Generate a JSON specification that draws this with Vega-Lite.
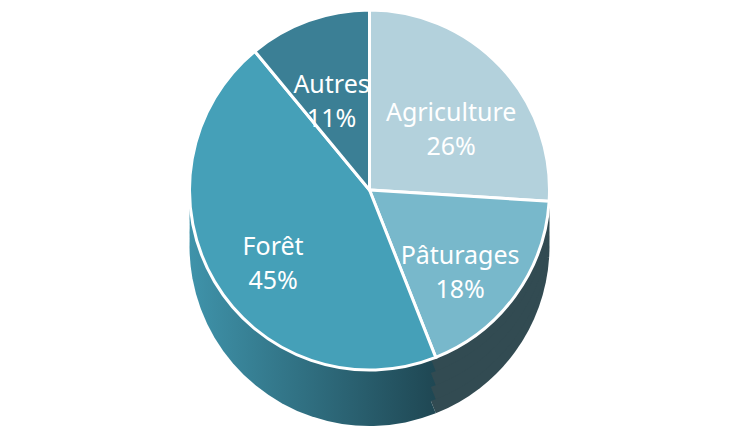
{
  "$schema": "https://vega.github.io/schema/vega-lite/v6.json",
  "width": 729,
  "height": 370,
  "autosize": {"type": "none"},
  "padding": {"left": 5, "right": 5, "top": 5, "bottom": 69},
  "background": "white",
  "view": {"stroke": null},
  "data": {
    "values": [
      {"cat": "Agriculture", "pct": 26, "ord": 1},
      {"cat": "Pâturages", "pct": 18, "ord": 2},
      {"cat": "Forêt", "pct": 45, "ord": 3},
      {"cat": "Autres", "pct": 11, "ord": 4}
    ]
  },
  "transform": [
    {"calculate": "datum.cat + '\\n' + datum.pct + '%'", "as": "label"}
  ],
  "encoding": {
    "theta": {"field": "pct", "type": "quantitative", "stack": true},
    "order": {"field": "ord", "type": "quantitative"}
  },
  "layer": [
    {
      "mark": {"type": "arc", "outerRadius": 180, "yOffset": 56},
      "encoding": {
        "color": {
          "condition": {"test": "datum.cat === 'Forêt'", "value": {"gradient": "linear", "x1": 0, "y1": 0, "x2": 1, "y2": 0, "stops": [{"offset": 0, "color": "#3f93aa"}, {"offset": 1, "color": "#1f4753"}]}},
          "value": "#324b52"
        }
      }
    },
    {
      "mark": {"type": "arc", "outerRadius": 180, "yOffset": 42},
      "encoding": {
        "color": {
          "condition": {"test": "datum.cat === 'Forêt'", "value": {"gradient": "linear", "x1": 0, "y1": 0, "x2": 1, "y2": 0, "stops": [{"offset": 0, "color": "#3f93aa"}, {"offset": 1, "color": "#1f4753"}]}},
          "value": "#324b52"
        }
      }
    },
    {
      "mark": {"type": "arc", "outerRadius": 180, "yOffset": 28},
      "encoding": {
        "color": {
          "condition": {"test": "datum.cat === 'Forêt'", "value": {"gradient": "linear", "x1": 0, "y1": 0, "x2": 1, "y2": 0, "stops": [{"offset": 0, "color": "#3f93aa"}, {"offset": 1, "color": "#1f4753"}]}},
          "value": "#324b52"
        }
      }
    },
    {
      "mark": {"type": "arc", "outerRadius": 180, "yOffset": 14},
      "encoding": {
        "color": {
          "condition": {"test": "datum.cat === 'Forêt'", "value": {"gradient": "linear", "x1": 0, "y1": 0, "x2": 1, "y2": 0, "stops": [{"offset": 0, "color": "#3f93aa"}, {"offset": 1, "color": "#1f4753"}]}},
          "value": "#324b52"
        }
      }
    },
    {
      "mark": {"type": "arc", "outerRadius": 180, "stroke": "white", "strokeWidth": 3},
      "encoding": {
        "color": {
          "field": "cat",
          "type": "nominal",
          "scale": {"domain": ["Agriculture", "Pâturages", "Forêt", "Autres"], "range": ["#b3d1dc", "#78b8cb", "#45a0b8", "#3b7f95"]},
          "legend": null
        }
      }
    },
    {
      "mark": {"type": "text", "radius": 112, "fontSize": 25, "font": "Noto Sans", "color": "white", "lineBreak": "\n", "lineHeight": 34, "align": "center", "baseline": "middle"},
      "encoding": {
        "text": {"field": "label", "type": "nominal"}
      }
    }
  ]
}
